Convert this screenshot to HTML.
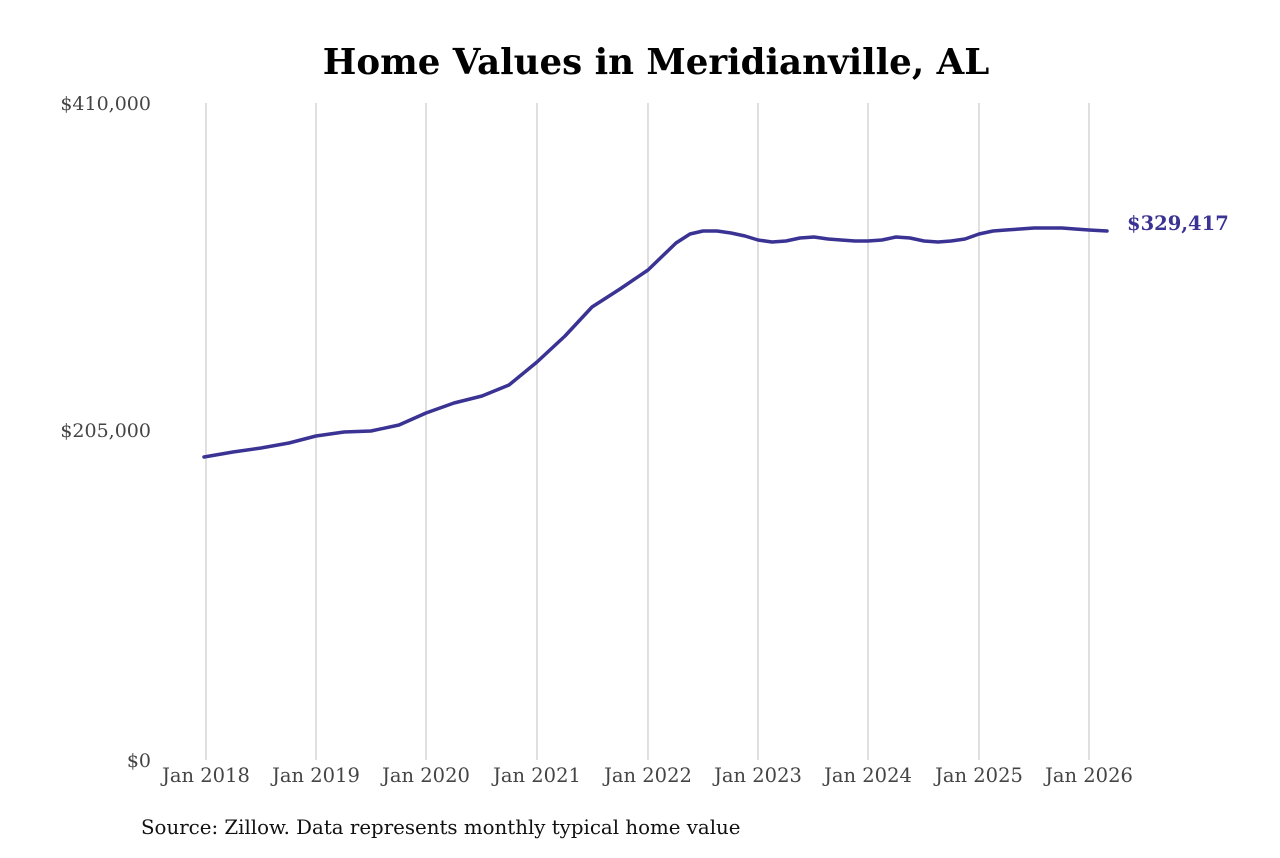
<!DOCTYPE html>
<html><head><style>
body{margin:0;background:#fff;}
svg text{font-family:"DejaVu Serif","Liberation Serif",serif;}
</style></head><body>
<svg width="1280" height="853" viewBox="0 0 1280 853" xmlns="http://www.w3.org/2000/svg">
<rect width="1280" height="853" fill="#fff"/>
<text x="656" y="74" text-anchor="middle" font-size="35.6" font-weight="bold" fill="#000">Home Values in Meridianville, AL</text>
<g stroke="#b0b0b0" stroke-width="0.8">
<line x1="206" y1="103" x2="206" y2="760"/><line x1="316" y1="103" x2="316" y2="760"/>
<line x1="426" y1="103" x2="426" y2="760"/><line x1="537" y1="103" x2="537" y2="760"/>
<line x1="648" y1="103" x2="648" y2="760"/><line x1="758" y1="103" x2="758" y2="760"/>
<line x1="868" y1="103" x2="868" y2="760"/><line x1="979" y1="103" x2="979" y2="760"/>
<line x1="1089" y1="103" x2="1089" y2="760"/>
</g>
<g font-size="19" fill="#444" text-anchor="end">
<text x="151" y="110">$410,000</text>
<text x="151" y="437">$205,000</text>
<text x="151" y="767">$0</text>
</g>
<g font-size="19.5" fill="#444" text-anchor="middle">
<text x="206" y="782">Jan 2018</text><text x="316" y="782">Jan 2019</text>
<text x="426" y="782">Jan 2020</text><text x="537" y="782">Jan 2021</text>
<text x="648" y="782">Jan 2022</text><text x="758" y="782">Jan 2023</text>
<text x="868" y="782">Jan 2024</text><text x="979" y="782">Jan 2025</text>
<text x="1089" y="782">Jan 2026</text>
</g>
<polyline fill="none" stroke="#3b3393" stroke-width="3.5" stroke-linejoin="round" stroke-linecap="round"
points="204,457 233,452 261,448 289,443 316,436 344,432 371,431 399,425 426,413 454,403 482,396 509,385 537,362 565,336 592,307 620,289 648,270 676,243 690,234 703,231 717,231 731,233 745,236 758,240 772,242 786,241 800,238 814,237 828,239 841,240 855,241 868,241 882,240 896,237 910,238 924,241 938,242 951,241 965,239 979,234 993,231 1006,230 1020,229 1034,228 1048,228 1062,228 1075,229 1089,230 1107,231"/>
<text x="1127" y="230" font-size="19.5" font-weight="bold" fill="#3b3393">$329,417</text>
<text x="141" y="834" font-size="19.8" fill="#111">Source: Zillow. Data represents monthly typical home value</text>
</svg>
</body></html>
